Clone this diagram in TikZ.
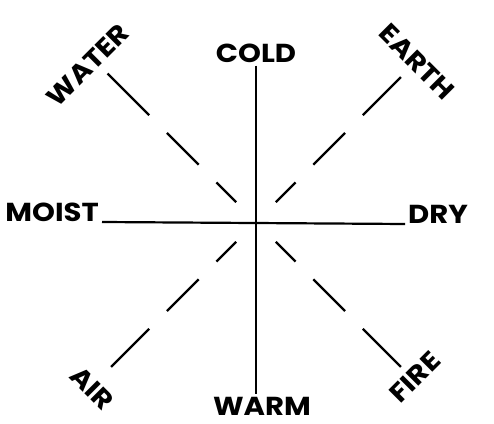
\documentclass[tikz,border=0pt]{standalone}
\usepackage{fontspec}
\setmainfont{Poppins}[FakeStretch=1.12]
\usepackage{xcolor}
\definecolor{cInk}{HTML}{000000}
\usetikzlibrary{positioning,calc}
\tikzset{
  node-quality/.style={font=\fontsize{26}{28}\selectfont\bfseries,
    text=cInk,inner sep=3pt},
  node-element/.style={node-quality},
  axis-line/.style={line width=2.2pt,draw=cInk},
  % diagonals: dashes get longer towards the element name
  axis-dash/.style={line width=2.2pt,draw=cInk,shorten <=28pt,
    dash pattern={on 28pt off 25pt on 45pt off 25pt on 60pt off 25pt}},
}

\begin{document}
\begin{tikzpicture}[x=1pt,y=1pt]
  \useasboundingbox (0,0) rectangle (494,423);
  \coordinate (c) at (256,201);
  \node[node-quality] (cold) at ($(c)+(0,169)$) {COLD};
  \node[node-quality] (warm) at ($(c)+(6,-184)$) {WARM};
  \node[node-quality,anchor=base east] (moist) at ($(c)+(-154,0)$) {MOIST};
  \node[node-quality,anchor=base west] (dry) at ($(c)+(149,-2)$) {DRY};
  \node[node-element,rotate=45] (water) at ($(c)+(-168,157)$) {WATER};
  \node[node-element,rotate=-45] (earth) at ($(c)+(161,160)$) {EARTH};
  \node[node-element,rotate=-45] (air) at ($(c)+(-164,-166)$) {AIR};
  \node[node-element,rotate=45] (fire) at ($(c)+(159,-155)$) {FIRE};
  \coordinate (nw) at ($(c)+(135:210)$);
  \coordinate (ne) at ($(c)+(45:205)$);
  \coordinate (sw) at ($(c)+(225:205)$);
  \coordinate (se) at ($(c)+(-45:205)$);
  \draw[axis-line] (cold.south) -- (cold.south |- warm.north);
  \draw[axis-line] (moist.base east) -- (dry.base west);
  \draw[axis-dash] (c) -- (nw);
  \draw[axis-dash] (c) -- (ne);
  \draw[axis-dash] (c) -- (sw);
  \draw[axis-dash] (c) -- (se);
\end{tikzpicture}
\end{document}
